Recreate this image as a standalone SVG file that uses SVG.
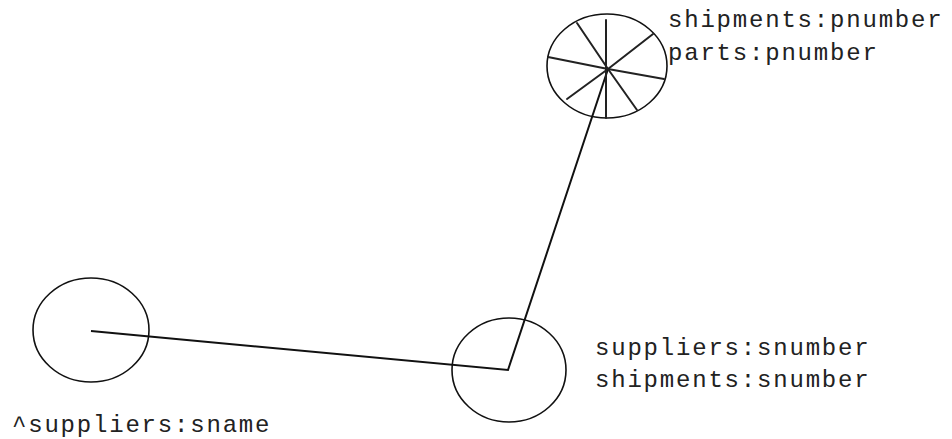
<svg xmlns="http://www.w3.org/2000/svg" width="952" height="439" viewBox="0 0 952 439">
<style>
.node{fill:none;stroke:#111;stroke-width:1.6}
.spoke{stroke:#222;stroke-width:2;stroke-linecap:round}
.conn{stroke:#111;stroke-width:2;fill:none;stroke-linejoin:miter}
text{font-family:"Liberation Mono","Courier New",monospace;font-size:24px;letter-spacing:1.8px;fill:#222}
</style>
<rect width="952" height="439" fill="#fff"/>
<g id="connectors">
<polyline class="conn" points="91,331 508,370 608,69"/>
</g>
<g id="node-sname">
<ellipse class="node" cx="91" cy="330" rx="58" ry="52"/>
<text x="12" y="432">^suppliers:sname</text>
</g>
<g id="node-snumber">
<ellipse class="node" cx="509" cy="370" rx="57" ry="52"/>
<text x="595" y="355">suppliers:snumber</text>
<text x="595" y="387">shipments:snumber</text>
</g>
<g id="node-pnumber">
<ellipse class="node" cx="607" cy="66" rx="60" ry="52"/>
<line class="spoke" x1="608" y1="69" x2="577" y2="23"/>
<line class="spoke" x1="606" y1="20" x2="606" y2="118"/>
<line class="spoke" x1="608" y1="69" x2="653" y2="34"/>
<line class="spoke" x1="608" y1="69" x2="548" y2="57"/>
<line class="spoke" x1="608" y1="69" x2="664" y2="79"/>
<line class="spoke" x1="608" y1="69" x2="567" y2="99"/>
<line class="spoke" x1="608" y1="69" x2="637" y2="110"/>
<text x="668" y="27">shipments:pnumber</text>
<text x="668" y="60">parts:pnumber</text>
</g>
</svg>
